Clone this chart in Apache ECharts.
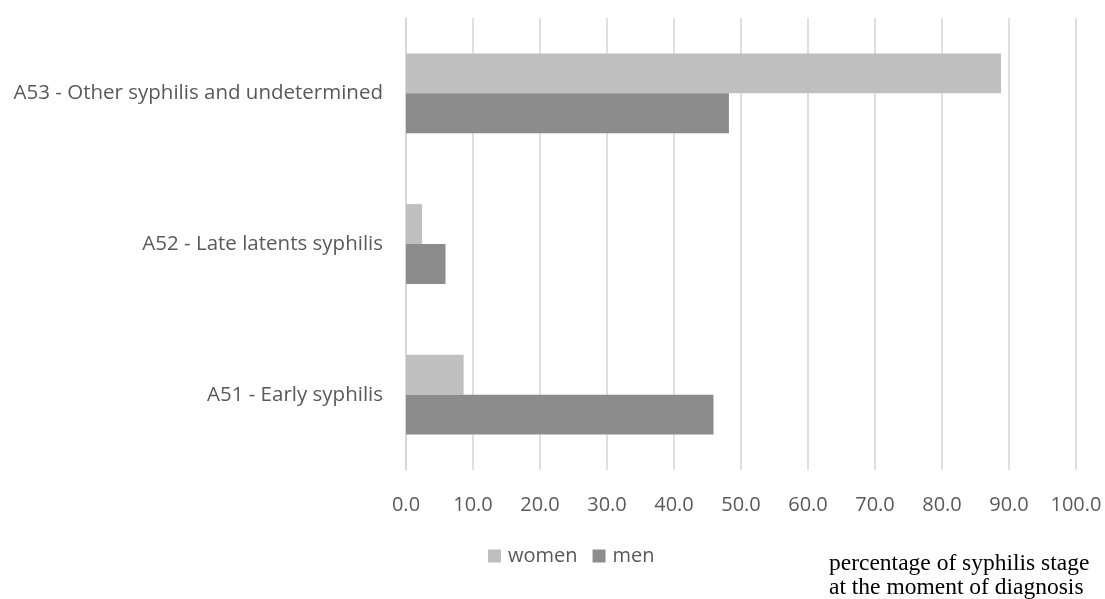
<!DOCTYPE html>
<html>
<head>
<meta charset="utf-8">
<script src="https://cdn.jsdelivr.net/npm/echarts@6/dist/echarts.min.js"></script>
<style>
html, body { margin: 0; padding: 0; background: #fff; }
#chart { width: 1105px; height: 599px; }
</style>
</head>
<body>
<div id="chart"></div>
<script>
var categories = ['A51 - Early syphilis', 'A52 - Late latents syphilis', 'A53 - Other syphilis and undetermined'];
var women = [8.6, 2.4, 88.8];
var men = [45.9, 5.9, 48.2];
var xTicks = { min: 0, max: 100, interval: 10 };

var myChart = echarts.init(document.getElementById('chart'));
var option = {
    backgroundColor: '#fff',
    animation: false,
    grid: {
        left: 406,
        right: 29,
        top: 18,
        bottom: 129
    },
    legend: {
        left: 483,
        top: 541,
        itemWidth: 13,
        itemHeight: 13,
        itemGap: 15,
        icon: 'rect',
        textStyle: {
            color: '#595959',
            fontFamily: 'Open Sans',
            fontSize: 20,
            padding: [0, 0, 0, 2]
        },
        data: ['women', 'men']
    },
    xAxis: {
        type: 'value',
        min: xTicks.min,
        max: xTicks.max,
        interval: xTicks.interval,
        axisLine: { show: false },
        axisTick: { show: false },
        axisLabel: {
            margin: 25,
            color: '#595959',
            fontFamily: 'Open Sans',
            fontSize: 20,
            formatter: function (v) { return v.toFixed(1); }
        },
        splitLine: {
            lineStyle: { color: '#d4d4d4', width: 1.5 }
        }
    },
    yAxis: {
        type: 'category',
        data: categories,
        axisLine: { show: true, lineStyle: { color: '#d4d4d4', width: 1.5 } },
        axisTick: { show: false },
        axisLabel: {
            margin: 23,
            color: '#595959',
            fontFamily: 'Open Sans',
            fontSize: 20.5
        }
    },
    series: [
        {
            name: 'women',
            type: 'bar',
            barGap: '0%',
            barCategoryGap: '47%',
            itemStyle: { color: '#bfbfbf' },
            data: women
        },
        {
            name: 'men',
            type: 'bar',
            itemStyle: { color: '#8c8c8c' },
            data: men
        }
    ],
    graphic: [
        {
            type: 'text',
            left: 829,
            top: 552,
            style: {
                text: 'percentage of syphilis stage\nat the moment of diagnosis',
                fill: '#000',
                font: '23.5px "Liberation Serif"',
                lineHeight: 24
            }
        }
    ]
};
myChart.setOption(option);
</script>
</body>
</html>
